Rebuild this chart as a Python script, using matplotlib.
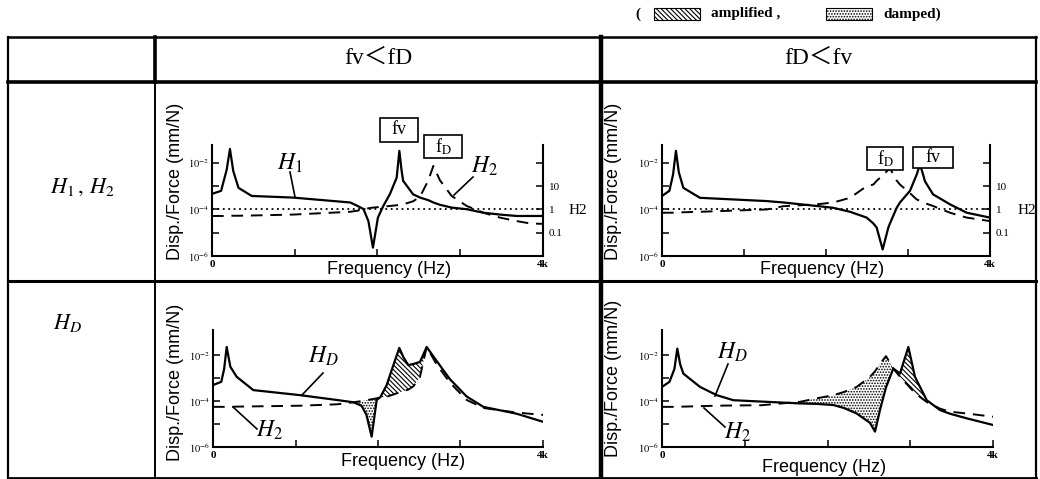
import numpy as np
import matplotlib
matplotlib.use("Agg")
import matplotlib.pyplot as plt
from matplotlib.lines import Line2D
from matplotlib.patches import Rectangle

plt.rcParams['mathtext.fontset'] = 'stix'
plt.rcParams['hatch.linewidth'] = 0.8

# ---- data (exponents of Disp./Force in mm/N) ----
tl_freq = [0, 110, 177, 217, 257, 320, 480, 980, 1670, 1760, 1830, 1890, 1945, 2005, 2070, 2150,
           2232, 2264, 2290, 2310, 2430, 2514, 2614, 2675, 2755, 2896, 3078, 3279, 3480, 3682, 3843, 4000]
tl_h1 = [-3.33, -3.2, -2.3, -1.4, -2.35, -3.07, -3.42, -3.49, -3.7, -3.85, -3.98, -4.5, -5.64, -4.35, -3.85, -3.34,
         -2.63, -1.48, -2.3, -2.77, -3.35, -3.49, -3.6, -3.7, -3.8, -3.92, -3.99, -4.14, -4.22, -4.28, -4.28, -4.28]
tl_h2 = [-4.28, -4.28, -4.28, -4.27, -4.27, -4.27, -4.26, -4.22, -4.1, -4.05, -4.0, -3.95, -3.92, -3.9, -3.88, -3.85,
         -3.82, -3.8, -3.79, -3.78, -3.65, -3.45, -2.75, -2.13, -2.75, -3.42, -3.85, -4.14, -4.35, -4.5, -4.6, -4.62]

tr_freq = [0, 90, 135, 170, 205, 260, 463, 1277, 1480, 1886, 2090, 2293, 2496, 2577, 2618, 2691, 2760, 2780,
           2862, 2902, 3024, 3106, 3146, 3180, 3207, 3305, 3512, 3716, 4000]
tr_h1 = [-3.42, -3.2, -2.5, -1.48, -2.4, -3.07, -3.5, -3.64, -3.7, -3.85, -3.93, -4.1, -4.35, -4.6, -4.78, -5.72,
         -4.78, -4.6, -3.93, -3.7, -3.2, -2.5, -2.07, -2.45, -2.79, -3.35, -3.78, -4.14, -4.35]
tr_h2 = [-4.14, -4.14, -4.14, -4.13, -4.13, -4.12, -4.1, -4.0, -3.86, -3.78, -3.7, -3.5, -3.0, -2.93, -2.77, -2.53,
         -2.3, -2.23, -2.76, -2.93, -3.3, -3.57, -3.63, -3.69, -3.73, -3.85, -4.14, -4.35, -4.5]

bl_freq = [0, 100, 135, 166, 210, 287, 489, 1055, 1500, 1700, 1800, 1860, 1923, 1984, 2030, 2105, 2180, 2258,
           2310, 2367, 2430, 2509, 2590, 2711, 2873, 3075, 3277, 3681, 4000]
bl_hd = [-3.3, -3.16, -2.6, -1.64, -2.5, -2.94, -3.52, -3.74, -3.95, -4.05, -4.2, -4.6, -5.55, -3.95, -3.82, -3.3,
         -2.5, -1.68, -2.1, -2.43, -2.38, -2.29, -1.64, -2.25, -3.05, -3.8, -4.25, -4.55, -4.9]
bl_h2 = [-4.25, -4.25, -4.25, -4.25, -4.25, -4.24, -4.23, -4.2, -4.14, -4.05, -4.0, -3.96, -3.92, -3.88, -3.84, -3.81,
         -3.72, -3.62, -3.56, -3.5, -3.35, -2.94, -1.64, -2.4, -3.2, -3.95, -4.3, -4.5, -4.6]
bl_damped = (1700, 1984)
bl_amplified = (2030, 2590)

br_freq = [0, 90, 150, 185, 220, 258, 459, 661, 862, 1200, 1668, 1870, 2070, 2200, 2353, 2514, 2574, 2640,
           2707, 2795, 2876, 2977, 3057, 3199, 3360, 3480, 3682, 4000]
br_hd = [-3.38, -3.16, -2.6, -1.71, -2.4, -2.8, -3.38, -3.74, -3.96, -4.02, -4.1, -4.12, -4.17, -4.3, -4.54, -4.95,
         -5.33, -4.3, -3.4, -2.58, -2.8, -1.64, -2.94, -3.96, -4.39, -4.55, -4.75, -5.04]
br_h2 = [-4.25, -4.25, -4.25, -4.24, -4.24, -4.24, -4.22, -4.2, -4.19, -4.18, -4.03, -3.88, -3.74, -3.6, -3.38, -2.94,
         -2.7, -2.35, -2.04, -2.58, -2.94, -3.33, -3.65, -4.04, -4.33, -4.46, -4.54, -4.68]
br_damped = (1668, 2795)
br_amplified = (2795, 3199)

W, H = 1040, 479
fig = plt.figure(figsize=(W / 100, H / 100), dpi=100)

SERIF = 'Liberation Serif'
SANS = 'Liberation Sans'
AMP_HATCH = '\\' * 7
DAMP_HATCH = '.' * 6


def fx(x):
    return x / W


def fy(y):
    return 1 - y / H


def rect(x0, y0, x1, y1):
    return [fx(x0), fy(y1), (x1 - x0) / W, (y1 - y0) / H]


def line(x0, y0, x1, y1, lw=1.2):
    fig.add_artist(Line2D([fx(x0), fx(x1)], [fy(y0), fy(y1)], lw=lw, color='k'))


def text(x, y, s, size, **kw):
    fig.text(fx(x), fy(y), s, fontsize=size, ha='center', va='center', **kw)


def draw_panel(pos, freq, solid, dashed, top, twin):
    ax = fig.add_axes(rect(*pos))
    f = np.array(freq)
    s = 10.0 ** np.array(solid)
    d = 10.0 ** np.array(dashed)
    ax.plot(f, s, color='k', lw=1.6)
    ax.plot(f, d, color='k', lw=1.4, ls=(0, (6, 4)))
    ax.set_yscale('log')
    ax.set_xlim(0, 4000)
    ax.set_ylim(1e-6, 10 ** top)
    ax.set_yticks([1e-6, 1e-4, 1e-2], ['$10^{-6}$', '$10^{-4}$', '$10^{-2}$'])
    ax.set_yticks([1e-5, 1e-3], minor=True)
    ax.yaxis.set_minor_formatter(plt.NullFormatter())
    ax.set_xticks([0, 1000, 2000, 3000, 4000], ['0', '', '', '', '4k'])
    ax.tick_params(which='both', direction='in', length=5, width=1.1, labelsize=7.5, pad=2)
    ax.tick_params(axis='x', labelsize=8, pad=3)
    for lab in ax.get_xticklabels():
        lab.set_fontweight('bold')
        lab.set_family(SERIF)
    ax.spines['top'].set_visible(False)
    ax.spines['right'].set_visible(False)
    for sp in ('left', 'bottom'):
        ax.spines[sp].set_linewidth(1.5)
    ax.patch.set_alpha(0)
    if twin:
        ax.axhline(1e-4, color='k', lw=1.3, ls=(0, (1, 2)))
        ax2 = ax.twinx()
        ax2.set_yscale('log')
        ax2.set_ylim(1e-2, 10 ** (top + 4))
        ax2.set_yticks([0.1, 1, 10, 100], ['0.1', '1', '10', ''])
        ax2.yaxis.set_minor_locator(plt.NullLocator())
        ax2.tick_params(direction='in', length=5, width=1.1, labelsize=8, pad=4)
        for lab in ax2.get_yticklabels():
            lab.set_family(SERIF)
        ax2.spines['top'].set_visible(False)
        ax2.spines['right'].set_linewidth(1.5)
        ax2.spines['left'].set_visible(False)
        ax2.spines['bottom'].set_visible(False)
    return ax, f, s, d


def shade(ax, f, s, d, band, hatch):
    mask = (f >= band[0]) & (f <= band[1])
    ax.fill_between(f, s, d, where=mask, interpolate=True, facecolor='none',
                    edgecolor='k', hatch=hatch, linewidth=0)


# ---- panels ----
draw_panel((212, 145, 543, 256), tl_freq, tl_h1, tl_h2, -1.23, True)
draw_panel((662, 145, 990, 256), tr_freq, tr_h1, tr_h2, -1.23, True)
ax, f, s, d = draw_panel((213, 330, 543, 447), bl_freq, bl_hd, bl_h2, -0.9, False)
shade(ax, f, s, d, bl_damped, DAMP_HATCH)
shade(ax, f, s, d, bl_amplified, AMP_HATCH)
ax, f, s, d = draw_panel((662, 330, 993, 447), br_freq, br_hd, br_h2, -0.9, False)
shade(ax, f, s, d, br_damped, DAMP_HATCH)
shade(ax, f, s, d, br_amplified, AMP_HATCH)

# ---- axis labels ----
for x, y in [(176, 181), (614, 181), (176, 382), (613, 378)]:
    text(x, y, 'Disp./Force (mm/N)', 13, rotation=90, family=SANS)
for x, y in [(389, 270), (822, 270), (403, 462), (824, 467)]:
    text(x, y, 'Frequency (Hz)', 13, family=SANS)
text(578, 211, 'H2', 11, family=SERIF)
text(1027, 211, 'H2', 11, family=SERIF)

# ---- curve annotations ----
text(290, 163, '$H_1$', 17)
line(290, 172, 295, 197)
text(485, 166, '$H_2$', 17)
line(473, 177, 454, 195)
text(323, 356, '$H_D$', 17)
line(323, 373, 302, 395)
text(270, 430, '$H_2$', 17)
line(257, 429, 233, 407)
text(732, 352, '$H_D$', 17)
line(728, 364, 715, 396)
text(738, 432, '$H_2$', 17)
line(725, 427, 704, 408)

# frequency boxes
for x0, y0, x1, y1, lab in [(380, 118, 418, 142, 'fv'), (424, 135, 462, 158, r'f$_{\mathrm{D}}$'),
                            (867, 147, 903, 170, r'f$_{\mathrm{D}}$'), (913, 147, 953, 168, 'fv')]:
    fig.add_artist(Rectangle((fx(x0), fy(y1)), (x1 - x0) / W, (y1 - y0) / H,
                             facecolor='white', edgecolor='k', lw=1.2))
    text((x0 + x1) / 2, (y0 + y1) / 2, lab, 13, family=SERIF)

# ---- table grid ----
line(8, 37, 1036, 37, 1.8)
line(8, 82, 1036, 82, 2.6)
line(8, 281, 1036, 281, 2.2)
line(8, 477.5, 1036, 477.5, 2.0)
line(8, 37, 8, 478, 1.6)
line(1036, 37, 1036, 478, 1.6)
line(155, 37, 155, 82, 2.6)
line(155, 82, 155, 478, 1.4)
line(601, 37, 601, 478, 3.2)

CJK = [SERIF, 'Noto Sans CJK JP']
text(378, 58, 'fv＜fD', 17, family=CJK)
text(818, 58, 'fD＜fv', 17, family=CJK)
text(82, 187, r'$H_1\,,\,H_2$', 16)
text(68, 323, '$H_D$', 16)

# ---- legend ----
text(638, 14, '(', 11, family=SERIF, fontweight='bold')
fig.add_artist(Rectangle((fx(654), fy(20)), 46 / W, 12 / H, facecolor='white',
                         edgecolor='k', lw=0.8, hatch=AMP_HATCH))
text(746, 14, 'amplified ,', 11, family=SERIF, fontweight='bold')
fig.add_artist(Rectangle((fx(826), fy(20)), 46 / W, 12 / H, facecolor='white',
                         edgecolor='k', lw=0.8, hatch=DAMP_HATCH))
text(912, 14, 'damped)', 11, family=SERIF, fontweight='bold')

fig.savefig('out.png', dpi=100)
